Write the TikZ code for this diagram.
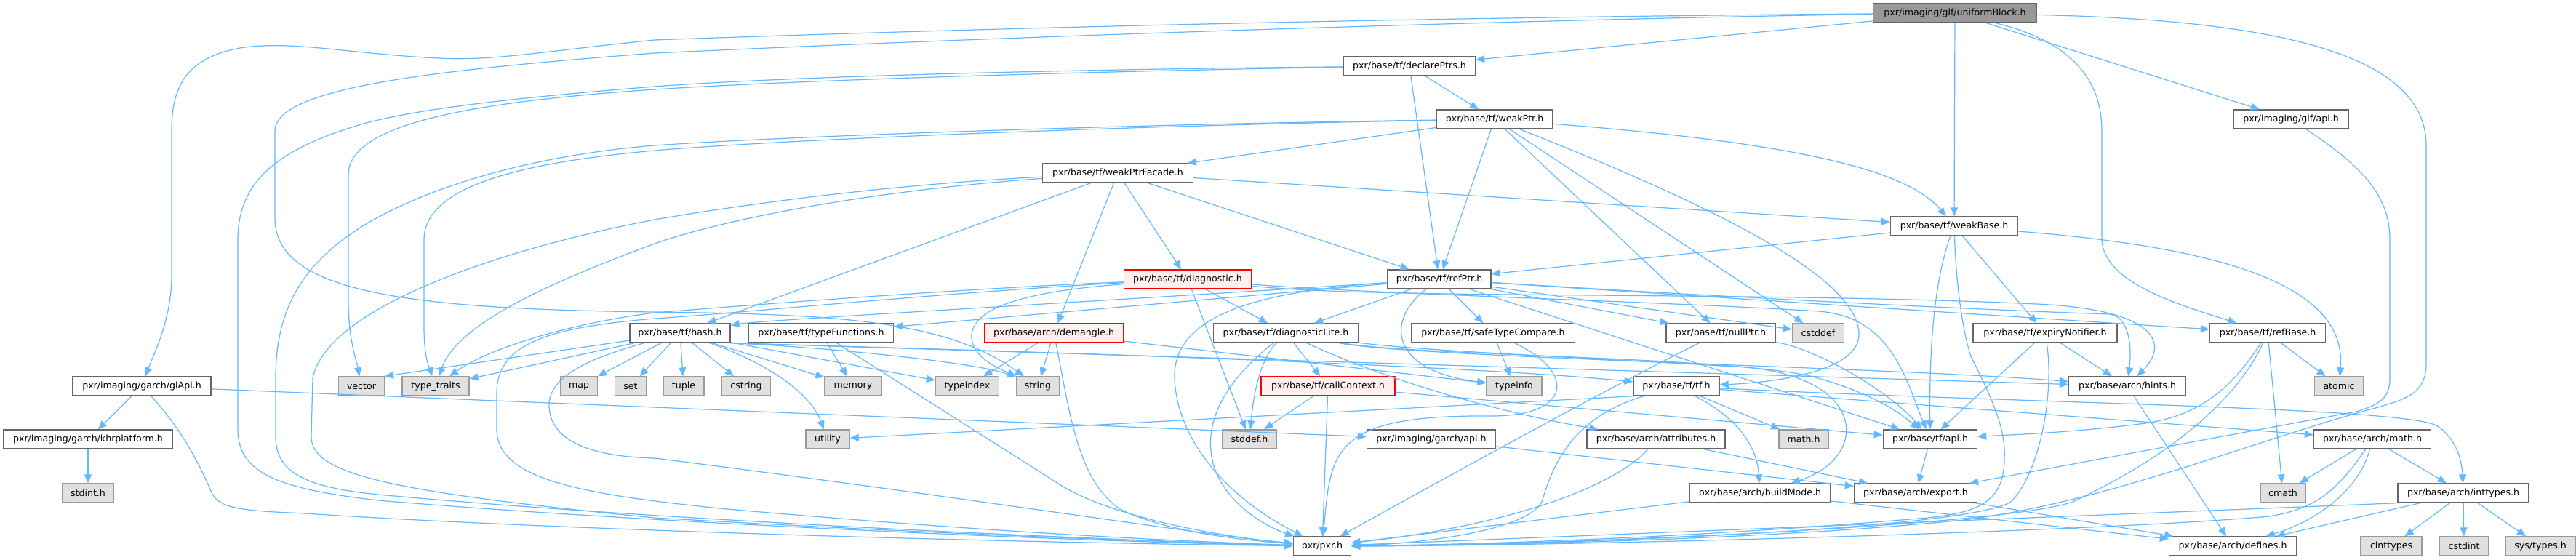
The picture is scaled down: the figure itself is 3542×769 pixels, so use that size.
\documentclass[tikz,border=0pt]{standalone}
\usepackage{fontspec}
\newfontfamily\nodefont{DejaVu Sans}
\usetikzlibrary{arrows.meta}
\definecolor{edgeblue}{HTML}{63B8FF}
\definecolor{bordgray}{HTML}{666666}
\definecolor{sysborder}{HTML}{999999}
\definecolor{sysfill}{HTML}{E0E0E0}
\definecolor{redfill}{HTML}{FFF0F0}
\definecolor{rootfill}{HTML}{999999}
\begin{document}
\begin{tikzpicture}[x=1pt,y=-1pt,
  nd/.style={draw=bordgray, fill=white, line width=1.4pt, minimum height=26pt, inner sep=0pt,
    font=\nodefont\fontsize{12.6pt}{15pt}\selectfont, text=black},
  sysnd/.style={nd, draw=sysborder, fill=sysfill},
  rednd/.style={nd, draw=red, fill=redfill},
  rootnd/.style={nd, fill=rootfill},
  dep/.style={draw=edgeblue, line width=1.2pt, -{Triangle[length=12pt,width=10pt]}}]
\useasboundingbox (0,0) rectangle (3542,769);
\fill[white] (0,0) rectangle (3542,769);

% ---------- nodes ----------
\node[rootnd, minimum width=225] (root) at (2688,18) {pxr/imaging/glf/uniformBlock.h};
\node[nd, minimum width=181] (declarePtrs) at (1938,91) {pxr/base/tf/declarePtrs.h};
\node[nd, minimum width=160] (weakPtr) at (2055,164) {pxr/base/tf/weakPtr.h};
\node[nd, minimum width=158] (glfApi) at (3150,164) {pxr/imaging/glf/api.h};
\node[nd, minimum width=207] (weakPtrFacade) at (1537,238) {pxr/base/tf/weakPtrFacade.h};
\node[nd, minimum width=175] (weakBase) at (2687,311) {pxr/base/tf/weakBase.h};
\node[nd, minimum width=142] (refPtr) at (1979,384) {pxr/base/tf/refPtr.h};
\node[rednd, minimum width=175] (diagnostic) at (1633,384) {pxr/base/tf/diagnostic.h};
\node[nd, minimum width=138] (hash) at (935,458) {pxr/base/tf/hash.h};
\node[nd, minimum width=199] (typeFunctions) at (1129,458) {pxr/base/tf/typeFunctions.h};
\node[rednd, minimum width=191] (demangle) at (1449,458) {pxr/base/arch/demangle.h};
\node[nd, minimum width=199] (diagnosticLite) at (1768,458) {pxr/base/tf/diagnosticLite.h};
\node[nd, minimum width=225] (safeTypeCompare) at (2053,458) {pxr/base/tf/safeTypeCompare.h};
\node[nd, minimum width=150] (nullPtr) at (2366,458) {pxr/base/tf/nullPtr.h};
\node[sysnd, minimum width=71] (cstddef) at (2500,458) {cstddef};
\node[nd, minimum width=198] (expiryNotifier) at (2812,458) {pxr/base/tf/expiryNotifier.h};
\node[nd, minimum width=159] (refBase) at (3118,458) {pxr/base/tf/refBase.h};
\node[nd, minimum width=190] (glApi) at (195,531) {pxr/imaging/garch/glApi.h};
\node[sysnd, minimum width=63] (vector) at (497,531) {vector};
\node[sysnd, minimum width=92] (typetraits) at (599,531) {type\_traits};
\node[sysnd, minimum width=51] (map) at (796,531) {map};
\node[sysnd, minimum width=43] (set) at (867,531) {set};
\node[sysnd, minimum width=56] (tuple) at (940,531) {tuple};
\node[sysnd, minimum width=67] (cstring) at (1026,531) {cstring};
\node[sysnd, minimum width=78] (memory) at (1173,531) {memory};
\node[sysnd, minimum width=87] (typeindex) at (1330,531) {typeindex};
\node[sysnd, minimum width=59] (string) at (1427,531) {string};
\node[rednd, minimum width=184] (callContext) at (1826,531) {pxr/base/tf/callContext.h};
\node[sysnd, minimum width=76] (typeinfo) at (2082,531) {typeinfo};
\node[nd, minimum width=118] (tfh) at (2305,531) {pxr/base/tf/tf.h};
\node[nd, minimum width=161] (hints) at (2925,531) {pxr/base/arch/hints.h};
\node[sysnd, minimum width=67] (atomic) at (3216,531) {atomic};
\node[nd, minimum width=233] (khr) at (121,604) {pxr/imaging/garch/khrplatform.h};
\node[sysnd, minimum width=60] (utility) at (1138,604) {utility};
\node[sysnd, minimum width=74] (stddef) at (1718,604) {stddef.h};
\node[nd, minimum width=177] (garchApi) at (1968,604) {pxr/imaging/garch/api.h};
\node[nd, minimum width=190] (attributes) at (2277,604) {pxr/base/arch/attributes.h};
\node[sysnd, minimum width=68] (mathh) at (2480,604) {math.h};
\node[nd, minimum width=129] (tfApi) at (2654,604) {pxr/base/tf/api.h};
\node[nd, minimum width=161] (archMath) at (3262,604) {pxr/base/arch/math.h};
\node[sysnd, minimum width=71] (stdint) at (121,678) {stdint.h};
\node[nd, minimum width=194] (buildMode) at (2420,678) {pxr/base/arch/buildMode.h};
\node[nd, minimum width=169] (export) at (2634,678) {pxr/base/arch/export.h};
\node[sysnd, minimum width=62] (cmath) at (3139,678) {cmath};
\node[nd, minimum width=180] (inttypes) at (3387,678) {pxr/base/arch/inttypes.h};
\node[nd, minimum width=79] (pxr) at (1818,751) {pxr/pxr.h};
\node[nd, minimum width=175] (defines) at (3070,751) {pxr/base/arch/defines.h};
\node[sysnd, minimum width=84] (cinttypes) at (3288,751) {cinttypes};
\node[sysnd, minimum width=67] (cstdint) at (3388,751) {cstdint};
\node[sysnd, minimum width=96] (systypes) at (3493,751) {sys/types.h};

% ---------- edges ----------
% uniformBlock.h
\draw[dep] (root) -- (declarePtrs);
\draw[dep] (root) -- (weakBase);
\draw[dep] (root) -- (glfApi);
\draw[dep] (root) .. controls (2860,60) and (2890,120) .. (2890,180) -- (2890,330) .. controls (2893,390) and (3000,420) .. (refBase);
\draw[dep] (root) .. controls (3150,28) and (3336,80) .. (3336,200) -- (3336,500) .. controls (3336,540) and (3310,548) .. (3270,560) .. controls (3100,605) and (2900,690) .. (2700,715) .. controls (2400,745) and (2000,750) .. (pxr);
\draw[dep] (root) .. controls (2200,22) and (1600,30) .. (900,55) .. controls (750,70) and (680,84) .. (603,80) .. controls (480,74) and (400,55) .. (330,66) .. controls (255,80) and (236,120) .. (236,180) -- (236,380) .. controls (236,440) and (210,490) .. (glApi);
\draw[dep] (root) .. controls (2200,25) and (1500,45) .. (900,73) .. controls (600,96) and (378,120) .. (378,180) -- (378,300) .. controls (378,400) and (550,425) .. (900,429) .. controls (1150,432) and (1300,440) .. (string);
% glf/api.h
\draw[dep] (glfApi) .. controls (3250,230) and (3286,270) .. (3286,330) -- (3286,520) .. controls (3286,548) and (3272,556) .. (3240,566) -- (export);
% garch
\draw[dep] (glApi) -- (khr);
\draw[dep] (glApi) -- (garchApi);
\draw[dep] (glApi) .. controls (250,590) and (275,640) .. (290,675) .. controls (300,700) and (330,702) .. (420,706) .. controls (700,725) and (1300,745) .. (pxr);
\draw[dep] (khr) -- (stdint);
\draw[dep] (garchApi) -- (export);
% declarePtrs.h
\draw[dep] (declarePtrs) -- (weakPtr);
\draw[dep] (declarePtrs) -- (refPtr);
\draw[dep] (declarePtrs) .. controls (1500,98) and (1100,110) .. (900,123) .. controls (650,140) and (479,170) .. (479,240) -- (479,420) .. controls (480,470) and (490,495) .. (vector);
\draw[dep] (declarePtrs) .. controls (1500,95) and (1100,104) .. (900,119) .. controls (700,135) and (574,150) .. (500,170) .. controls (380,205) and (327,250) .. (327,330) -- (327,590) .. controls (327,650) and (380,672) .. (520,688) .. controls (900,720) and (1500,745) .. (pxr);
% weakPtr.h
\draw[dep] (weakPtr) -- (weakPtrFacade);
\draw[dep] (weakPtr) -- (refPtr);
\draw[dep] (weakPtr) .. controls (2450,195) and (2620,230) .. (weakBase);
\draw[dep] (weakPtr) -- (nullPtr);
\draw[dep] (weakPtr) -- (cstddef);
\draw[dep] (weakPtr) .. controls (2400,300) and (2556,390) .. (2556,460) .. controls (2556,515) and (2420,527) .. (tfh);
\draw[dep] (weakPtr) .. controls (1600,172) and (1100,190) .. (900,207) .. controls (700,225) and (583,260) .. (583,330) -- (583,450) .. controls (583,490) and (590,505) .. (typetraits);
\draw[dep] (weakPtr) .. controls (1600,170) and (1100,186) .. (900,200) .. controls (750,212) and (600,250) .. (500,310) .. controls (420,360) and (379,420) .. (379,520) -- (379,600) .. controls (379,650) and (420,670) .. (520,680) .. controls (900,715) and (1500,742) .. (pxr);
% weakPtrFacade.h
\draw[dep] (weakPtrFacade) -- (diagnostic);
\draw[dep] (weakPtrFacade) -- (hash);
\draw[dep] (weakPtrFacade) -- (demangle);
\draw[dep] (weakPtrFacade) -- (refPtr);
\draw[dep] (weakPtrFacade) -- (weakBase);
\draw[dep] (weakPtrFacade) .. controls (1200,255) and (1000,285) .. (900,302) .. controls (700,340) and (450,420) .. (430,520) -- (428,600) .. controls (428,650) and (520,675) .. (900,712) .. controls (1300,735) and (1600,745) .. (pxr);
\draw[dep] (weakPtrFacade) .. controls (1200,262) and (1000,300) .. (900,335) .. controls (780,380) and (630,440) .. (typetraits);
% weakBase.h
\draw[dep] (weakBase) -- (refPtr);
\draw[dep] (weakBase) -- (expiryNotifier);
\draw[dep] (weakBase) .. controls (3050,340) and (3228,390) .. (atomic);
\draw[dep] (weakBase) .. controls (2665,370) and (2652,450) .. (tfApi);
\draw[dep] (weakBase) .. controls (2690,400) and (2700,460) .. (2710,490) .. controls (2740,550) and (2758,590) .. (2756,630) .. controls (2756,690) and (2720,705) .. (2650,712) .. controls (2300,742) and (2000,749) .. (pxr);
% refPtr.h
\draw[dep] (refPtr) -- (diagnosticLite);
\draw[dep] (refPtr) -- (safeTypeCompare);
\draw[dep] (refPtr) .. controls (1905,440) and (1910,510) .. (typeinfo);
\draw[dep] (refPtr) -- (nullPtr);
\draw[dep] (refPtr) -- (cstddef);
\draw[dep] (refPtr) -- (refBase);
\draw[dep] (refPtr) .. controls (2400,410) and (2700,425) .. (2900,432) .. controls (2925,434) and (2932,470) .. (hints);
\draw[dep] (refPtr) -- (tfApi);
\draw[dep] (refPtr) -- (typeFunctions);
\draw[dep] (refPtr) .. controls (1500,415) and (1050,440) .. (hash);
\draw[dep] (refPtr) .. controls (1740,400) and (1612,430) .. (1615,520) .. controls (1618,600) and (1680,680) .. (pxr);
% diagnostic.h
\draw[dep] (diagnostic) -- (diagnosticLite);
\draw[dep] (diagnostic) -- (stddef);
\draw[dep] (diagnostic) .. controls (1420,400) and (1340,420) .. (1336,460) .. controls (1334,490) and (1370,505) .. (string);
\draw[dep] (diagnostic) .. controls (1300,398) and (1000,422) .. (900,430) .. controls (780,445) and (670,480) .. (typetraits);
\draw[dep] (diagnostic) .. controls (1300,402) and (1000,432) .. (900,438) .. controls (760,450) and (683,470) .. (683,540) -- (683,590) .. controls (683,660) and (800,680) .. (1000,700) .. controls (1400,735) and (1650,745) .. (pxr);
\draw[dep] (diagnostic) .. controls (1900,405) and (2300,415) .. (2500,428) .. controls (2600,435) and (2620,520) .. (tfApi);
\draw[dep] (diagnostic) .. controls (1900,412) and (2400,400) .. (2800,418) .. controls (2960,425) and (2985,470) .. (hints);
% hash.h
\draw[dep] (hash) -- (vector.north east);
\draw[dep] (hash) -- (typetraits);
\draw[dep] (hash) -- (map);
\draw[dep] (hash) -- (set);
\draw[dep] (hash) -- (tuple);
\draw[dep] (hash) -- (cstring);
\draw[dep] (hash) -- (memory);
\draw[dep] (hash) -- (typeindex);
\draw[dep] (hash.south east) .. controls (1150,478) and (1350,500) .. (string);
\draw[dep] (hash) .. controls (1030,490) and (1110,530) .. (utility);
\draw[dep] (hash) .. controls (820,490) and (752,515) .. (755,560) .. controls (758,610) and (820,628) .. (900,630) .. controls (1300,680) and (1650,735) .. (pxr);
\draw[dep] (hash.south east) .. controls (1300,480) and (2000,500) .. (tfh);
\draw[dep] (hash.south east) -- (hints);
% typeFunctions.h
\draw[dep] (typeFunctions) -- (memory);
\draw[dep] (typeFunctions) -- (1460,668) .. controls (1520,705) and (1650,735) .. (pxr);
% demangle.h
\draw[dep] (demangle) -- (typeindex);
\draw[dep] (demangle) -- (string);
\draw[dep] (demangle) .. controls (1470,560) and (1480,660) .. (1540,700) .. controls (1600,730) and (1700,742) .. (pxr);
\draw[dep] (demangle) -- (typeinfo);
% diagnosticLite.h
\draw[dep] (diagnosticLite) -- (callContext);
\draw[dep] (diagnosticLite) .. controls (1728,500) and (1722,560) .. (stddef);
\draw[dep] (diagnosticLite) .. controls (1690,520) and (1660,570) .. (1665,620) .. controls (1670,680) and (1730,720) .. (pxr);
\draw[dep] (diagnosticLite) .. controls (1900,520) and (2050,565) .. (attributes);
\draw[dep] (diagnosticLite) .. controls (1950,490) and (2400,490) .. (2500,520) .. controls (2570,540) and (2610,565) .. (tfApi);
\draw[dep] (diagnosticLite) .. controls (1950,482) and (2150,490) .. (2400,505) .. controls (2570,520) and (2570,630) .. (buildMode);
\draw[dep] (diagnosticLite) .. controls (1950,492) and (2600,505) .. (hints);
% callContext.h
\draw[dep] (callContext) -- (stddef);
\draw[dep] (callContext) -- (pxr);
\draw[dep] (callContext) -- (tfApi);
% safeTypeCompare.h
\draw[dep] (safeTypeCompare) -- (typeinfo);
\draw[dep] (safeTypeCompare) .. controls (2165,510) and (2165,572) .. (2050,572) .. controls (1830,570) and (1830,620) .. (pxr);
% nullPtr.h
\draw[dep] ([xshift=-30pt]nullPtr.south) .. controls (2230,525) and (2090,600) .. (pxr);
\draw[dep] (nullPtr) .. controls (2500,480) and (2600,540) .. (tfApi);
% expiryNotifier.h
\draw[dep] (expiryNotifier) -- (hints);
\draw[dep] (expiryNotifier) -- (tfApi);
\draw[dep] (expiryNotifier) .. controls (2825,540) and (2805,650) .. (2765,690) .. controls (2700,730) and (2100,750) .. (pxr);
% refBase.h
\draw[dep] (refBase) -- (atomic);
\draw[dep] (refBase) -- (cmath);
\draw[dep] (refBase) .. controls (3070,530) and (3030,570) .. (2950,582) .. controls (2850,595) and (2760,598) .. (tfApi);
\draw[dep] (refBase) .. controls (3080,540) and (3000,620) .. (2850,690) .. controls (2750,725) and (2100,750) .. (pxr);
% hints.h
\draw[dep] (hints) -- (defines);
% tf.h
\draw[dep] (tfh.south west) -- (utility);
\draw[dep] (tfh) .. controls (2160,575) and (2135,640) .. (2120,690) .. controls (2100,730) and (1950,748) .. (pxr);
\draw[dep] (tfh) -- (mathh);
\draw[dep] (tfh) .. controls (2370,565) and (2415,600) .. (buildMode);
\draw[dep] (tfh) -- (archMath);
\draw[dep] (tfh) .. controls (2800,555) and (3300,560) .. (3350,585) .. controls (3375,600) and (3385,630) .. (inttypes);
% attributes.h
\draw[dep] (attributes) .. controls (2230,660) and (2100,720) .. (pxr);
\draw[dep] (attributes) -- (export);
% buildMode.h, export.h, tf/api.h
\draw[dep] (buildMode) -- (pxr);
\draw[dep] (buildMode) -- (defines);
\draw[dep] (export) -- (defines);
\draw[dep] (tfApi) -- (export);
% arch/math.h
\draw[dep] (archMath) -- (cmath);
\draw[dep] (archMath) -- (inttypes);
\draw[dep] (archMath) .. controls (3245,670) and (3190,715) .. (defines);
\draw[dep] (archMath) .. controls (3210,680) and (3180,700) .. (3120,710) .. controls (2900,730) and (2200,750) .. (pxr);
% inttypes.h
\draw[dep] (inttypes) -- (cinttypes);
\draw[dep] (inttypes) -- (cstdint);
\draw[dep] (inttypes) -- (systypes);
\draw[dep] (inttypes) -- (defines);
\draw[dep] (inttypes.south west) -- (pxr);
\end{tikzpicture}
\end{document}
